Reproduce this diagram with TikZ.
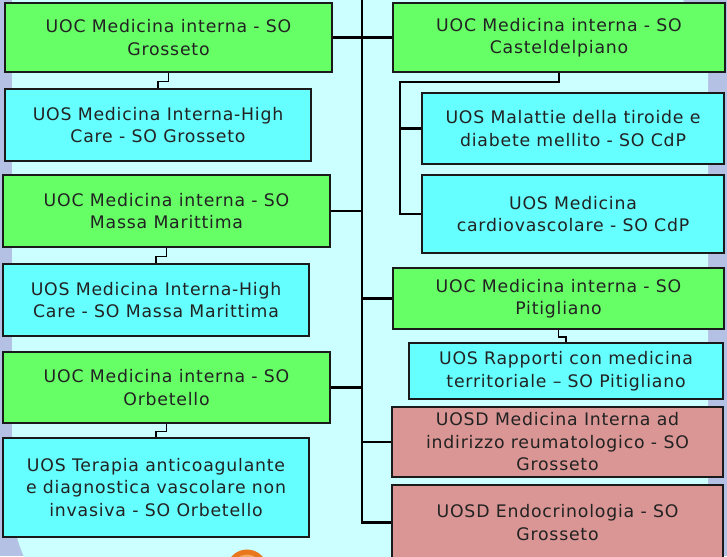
\documentclass[tikz,border=0pt]{standalone}
\usepackage{fontspec}
\setmainfont{DejaVu Sans}[LetterSpace=4.5]
\definecolor{lav}{HTML}{B4C0E4}
\definecolor{bgc}{HTML}{CCFFFF}
\definecolor{uocg}{HTML}{66FF66}
\definecolor{uosc}{HTML}{66FFFF}
\definecolor{uosdp}{HTML}{D99694}
\definecolor{edge}{HTML}{1A1A1A}
\definecolor{txt}{HTML}{222222}
\definecolor{orng}{HTML}{E8771E}
\definecolor{orngl}{HTML}{F4A860}
\tikzset{
  box/.style={draw=edge, line width=1.8pt, inner sep=0pt, align=center, text=txt,
    font=\fontsize{17.3}{22.5}\selectfont},
  uoc/.style={box, fill=uocg},
  uos/.style={box, fill=uosc},
  uosd/.style={box, fill=uosdp},
  trunk/.style={draw=black, line width=2.2pt},
  sub/.style={draw=black, line width=1.6pt},
}
\begin{document}
\begin{tikzpicture}[x=1pt, y=-1pt]
\useasboundingbox (0,0) rectangle (727,556);
\clip (0,0) rectangle (727,556);
\fill[lav] (0,0) rectangle (727,556);
\fill[bgc] (12,-200) [rounded corners=140pt] -- (12,640) [sharp corners] -- (708,640) [rounded corners=110pt] -- (708,-40) [sharp corners] -- (400,-40) -- (400,-200) -- cycle;
% orange circle
\filldraw[fill=orngl, draw=orng, line width=5pt] (247,570) circle (18pt);

% left column
\node[uoc, minimum width=327pt, minimum height=69pt] (L1) at (168.5,37.5) {UOC Medicina interna - SO\\Grosseto};
\node[uos, minimum width=306pt, minimum height=72pt] (L2) at (158,125) {UOS Medicina Interna-High\\Care - SO Grosseto};
\node[uoc, minimum width=327pt, minimum height=72pt] (L3) at (166.5,211) {UOC Medicina interna - SO\\Massa Marittima};
\node[uos, minimum width=306pt, minimum height=72pt] (L4) at (156,300) {UOS Medicina Interna-High\\Care - SO Massa Marittima};
\node[uoc, minimum width=327pt, minimum height=71pt] (L5) at (166.5,387.5) {UOC Medicina interna - SO\\Orbetello};
\node[uos, minimum width=306pt, minimum height=99pt] (L6) at (156,487.5) {UOS Terapia anticoagulante\\e diagnostica vascolare non\\invasiva - SO Orbetello};

% right column
\node[uoc, minimum width=332pt, minimum height=69pt] (R1) at (559,37.5) {UOC Medicina interna - SO\\Casteldelpiano};
\node[uos, minimum width=302pt, minimum height=71pt] (R2) at (573,128.5) {UOS Malattie della tiroide e\\diabete mellito - SO CdP};
\node[uos, minimum width=302pt, minimum height=78pt] (R3) at (573,214) {UOS Medicina\\cardiovascolare - SO CdP};
\node[uoc, minimum width=331pt, minimum height=61pt] (R4) at (558.5,298.5) {UOC Medicina interna - SO\\Pitigliano};
\node[uos, minimum width=314pt, minimum height=56pt] (R5) at (566,371) {UOS Rapporti con medicina\\territoriale \textendash{} SO Pitigliano};
\node[uosd, minimum width=331pt, minimum height=70pt] (R6) at (557.5,442) {UOSD Medicina Interna ad\\indirizzo reumatologico - SO\\Grosseto};
\node[uosd, minimum width=331pt, minimum height=75pt] (R7) at (557.5,522.5) {UOSD Endocrinologia - SO\\Grosseto};

% trunk
\coordinate (top) at (362,-5);
\draw[trunk] (top) |- (R7.west);
\foreach \n in {L1,L3,L5} \draw[trunk] (\n.east) -- (\n.east -| top);
\foreach \n in {R1,R4,R6} \draw[trunk] (\n.west) -- (\n.west -| top);

% Casteldelpiano sub-branch
\coordinate (ck) at (559,82);
\coordinate (cv) at (400,82);
\draw[trunk] (R1.south) -- (ck) -- (cv) |- (R3.west);
\draw[trunk] (R2.west) -- (R2.west -| cv);

% dog-leg connectors
\draw[sub] (L1.south) -- ++(0,8.5) -| (L2.north);
\draw[sub] (L3.south) -- ++(0,8.5) -| (L4.north);
\draw[sub] (L5.south) -- ++(0,7.5) -| (L6.north);
\draw[sub] (R4.south) -- ++(0,7) -| (R5.north);
\end{tikzpicture}
\end{document}
